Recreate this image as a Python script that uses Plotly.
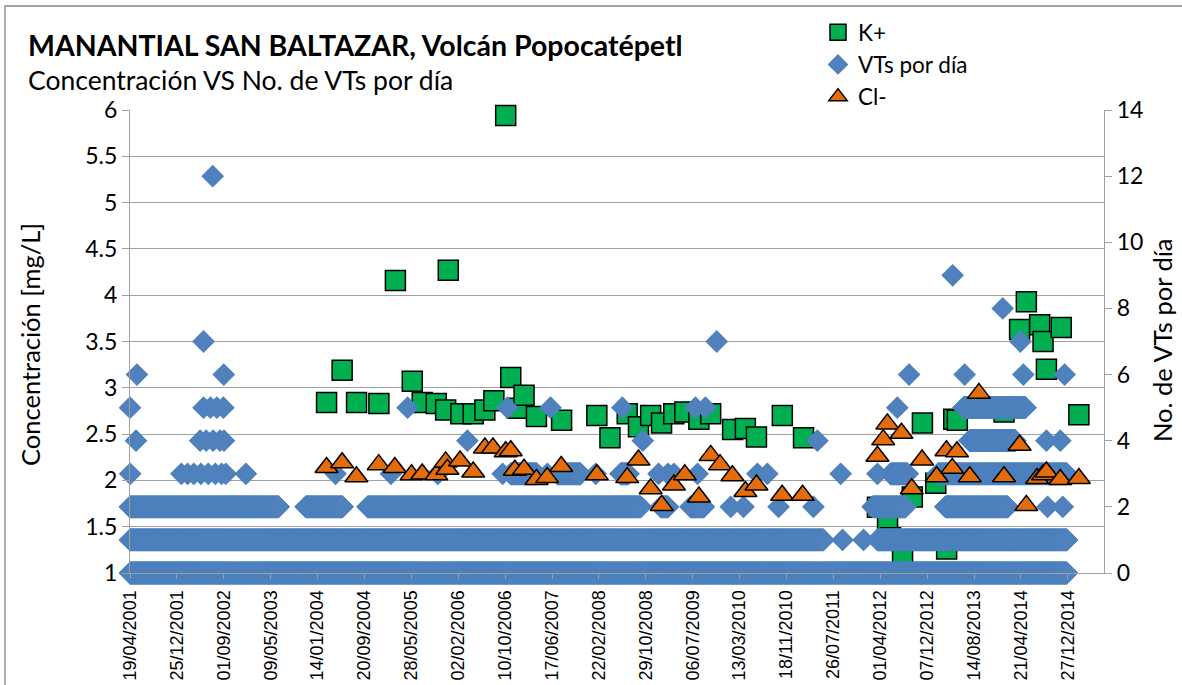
import pandas as pd
import plotly.graph_objects as go

# ---------------------------------------------------------------- data
tick_labels = ["19/04/2001", "25/12/2001", "01/09/2002", "09/05/2003", "14/01/2004",
               "20/09/2004", "28/05/2005", "02/02/2006", "10/10/2006", "17/06/2007",
               "22/02/2008", "29/10/2008", "06/07/2009", "13/03/2010", "18/11/2010",
               "26/07/2011", "01/04/2012", "07/12/2012", "14/08/2013", "21/04/2014",
               "27/12/2014"]

# Potassium (K+) samples, mg/L
k_dates = ["2004-03-02", "2004-05-24", "2004-08-09", "2004-12-06",
           "2005-03-04", "2005-06-02", "2005-07-25", "2005-10-08", "2005-11-27", "2005-12-11",
           "2006-02-16", "2006-04-23", "2006-06-24", "2006-08-11", "2006-10-13", "2006-11-09", "2006-12-14",
           "2007-01-19", "2007-03-26", "2007-08-07",
           "2008-02-11", "2008-04-21", "2008-07-22", "2008-09-20", "2008-11-24",
           "2009-01-21", "2009-03-27", "2009-05-25", "2009-08-08", "2009-10-10",
           "2010-02-04", "2010-04-13", "2010-06-11", "2010-10-27",
           "2011-02-17",
           "2012-03-17", "2012-05-10", "2012-05-26", "2012-07-29", "2012-09-19", "2012-11-12",
           "2013-01-22", "2013-03-21", "2013-04-28", "2013-05-17",
           "2014-01-21", "2014-04-14", "2014-05-20", "2014-07-30", "2014-08-17", "2014-09-04", "2014-11-22",
           "2015-02-24"]
k_values = [2.84, 3.19, 2.84, 2.83,
            4.16, 3.07, 2.84, 2.83, 2.76, 4.27,
            2.72, 2.72, 2.76, 2.86, 5.94, 3.11, 2.78,
            2.92, 2.69, 2.65,
            2.70, 2.46, 2.72, 2.58, 2.70,
            2.62, 2.72, 2.74, 2.66, 2.72,
            2.55, 2.56, 2.47, 2.70,
            2.46,
            1.71, 1.55, 1.38, 1.18, 1.82, 2.62,
            1.97, 1.26, 2.66, 2.65,
            2.74, 3.63, 3.93, 3.68, 3.50, 3.20, 3.65,
            2.71]

# Chloride (Cl-) samples, mg/L
cl_dates = ["2004-03-02", "2004-05-24", "2004-08-08", "2004-12-05",
            "2005-03-01", "2005-05-29", "2005-07-25", "2005-10-08", "2005-11-27", "2005-12-06",
            "2006-02-12", "2006-04-23", "2006-06-24", "2006-08-06", "2006-10-13", "2006-11-09", "2006-12-01",
            "2007-01-19", "2007-03-26", "2007-05-22", "2007-08-05",
            "2008-02-11", "2008-07-22", "2008-09-20", "2008-11-24",
            "2009-01-22", "2009-03-28", "2009-05-25", "2009-08-08", "2009-10-10", "2009-11-29",
            "2010-02-03", "2010-04-13", "2010-06-11", "2010-10-26",
            "2011-02-12",
            "2012-03-17", "2012-04-17", "2012-05-09", "2012-07-23", "2012-09-16", "2012-11-10",
            "2013-01-27", "2013-03-20", "2013-04-20", "2013-05-15", "2013-07-22", "2013-09-09",
            "2014-01-21", "2014-04-14", "2014-05-20", "2014-07-16", "2014-08-17", "2014-09-04", "2014-11-17",
            "2015-02-24"]
cl_values = [2.14, 2.19, 2.04, 2.17,
             2.14, 2.06, 2.07, 2.06, 2.20, 2.12,
             2.21, 2.09, 2.35, 2.35, 2.31, 2.32, 2.11,
             2.12, 2.01, 2.03, 2.15,
             2.06, 2.03, 2.22, 1.91,
             1.73, 1.95, 2.06, 1.82, 2.27, 2.17,
             2.05, 1.88, 1.95, 1.84,
             1.84,
             2.26, 2.44, 2.61, 2.51, 1.91, 2.22,
             2.04, 2.32, 2.13, 2.31, 2.04, 2.94,
             2.04, 2.38, 1.73, 2.02, 2.06, 2.09, 2.01,
             2.02]

# Volcano-tectonic events per day: runs of days sharing the same daily count
vt_run_counts = [0, 1, 1,
                 2, 2, 2, 2, 2, 2, 2,
                 3, 3, 3, 3, 3,
                 4,
                 5]
vt_run_start = ["2001-04-19", "2001-04-19", "2012-03-17",
                "2001-04-19", "2003-11-12", "2004-10-07", "2009-01-17", "2009-06-25", "2012-02-21", "2013-03-15",
                "2006-11-09", "2007-07-16", "2008-06-17", "2012-05-26", "2013-02-02",
                "2013-07-21",
                "2013-06-19"]
vt_run_end = ["2014-12-22", "2011-06-03", "2014-12-22",
              "2003-06-20", "2004-05-26", "2008-10-02", "2009-02-24", "2009-09-03", "2012-08-14", "2014-02-10",
              "2007-03-28", "2007-11-16", "2008-07-28", "2012-08-25", "2014-12-22",
              "2014-03-22",
              "2014-05-15"]

# Volcano-tectonic events per day: isolated days
vt_day_dates = ["2011-09-13", "2012-01-03",
                "2010-01-25", "2010-04-03", "2010-10-07", "2011-04-11", "2014-09-10", "2014-11-30",
                "2001-04-20", "2002-01-18", "2002-02-20", "2002-03-25", "2002-05-02", "2002-06-10",
                "2002-07-18", "2002-08-20", "2002-09-12", "2002-12-28",
                "2004-04-19", "2005-02-08", "2005-10-16", "2006-09-27",
                "2007-05-23", "2008-02-05", "2009-01-05", "2009-02-24", "2009-03-28", "2009-08-01",
                "2010-06-16", "2010-08-08", "2011-09-03", "2012-03-17",
                "2001-05-21", "2002-04-28", "2002-05-30", "2002-07-06", "2002-08-12", "2002-09-02",
                "2006-03-23", "2008-10-13", "2011-05-02", "2014-09-04", "2014-11-17",
                "2001-04-19", "2002-05-16", "2002-06-22", "2002-07-26", "2002-08-30",
                "2005-05-08", "2006-10-22", "2007-06-09", "2008-06-26", "2009-07-21",
                "2009-09-12", "2012-07-01",
                "2001-05-26", "2002-09-01", "2012-09-02", "2013-06-25", "2014-05-04", "2014-12-10",
                "2002-05-16", "2009-11-11", "2014-04-18",
                "2014-01-14",
                "2013-04-22",
                "2002-07-04"]
vt_day_counts = [1, 1,
                 2, 2, 2, 2, 2, 2,
                 3, 3, 3, 3, 3, 3,
                 3, 3, 3, 3,
                 3, 3, 3, 3,
                 3, 3, 3, 3, 3, 3,
                 3, 3, 3, 3,
                 4, 4, 4, 4, 4, 4,
                 4, 4, 4, 4, 4,
                 5, 5, 5, 5, 5,
                 5, 5, 5, 5, 5,
                 5, 5,
                 6, 6, 6, 6, 6, 6,
                 7, 7, 7,
                 8,
                 9,
                 12]

# ---------------------------------------------------------------- build VT series
vt_x, vt_y = [], []
for c, s, e in zip(vt_run_counts, vt_run_start, vt_run_end):
    days = pd.date_range(s, e, freq="D")
    vt_x.extend(days)
    vt_y.extend([c] * len(days))
vt_x.extend(pd.to_datetime(vt_day_dates))
vt_y.extend(vt_day_counts)

tick_vals = pd.to_datetime(tick_labels, format="%d/%m/%Y")

# ---------------------------------------------------------------- figure
W, H = 1182, 685
L, R, T, B = 130, 1104, 110, 573


def px(x):
    return (x - L) / (R - L)


def py(y):
    return (B - y) / (B - T)


CAL = "Lato, Carlito, Calibri, sans-serif"
GRID = "#A0A0A0"

fig = go.Figure()
fig.add_trace(go.Scatter(
    x=pd.to_datetime(k_dates), y=k_values, name="K+", mode="markers",
    legendgroup="k", cliponaxis=False,
    marker=dict(symbol="square", size=20, color="#00B050",
                line=dict(color="black", width=1.5)),
    xaxis="x", yaxis="y"))
fig.add_trace(go.Scatter(
    x=vt_x, y=vt_y, name="VTs por día", mode="markers",
    legendgroup="vt", cliponaxis=False,
    marker=dict(symbol="diamond", size=17.5, color="#4F81BD", line=dict(width=0)),
    xaxis="x", yaxis="y2"))
fig.add_trace(go.Scatter(
    x=pd.to_datetime(cl_dates), y=cl_values, name="Cl-", mode="markers",
    legendgroup="cl", cliponaxis=False,
    marker=dict(symbol="triangle-up", size=20, color="#E46C0A",
                line=dict(color="black", width=1.5)),
    xaxis="x", yaxis="y3"))

fig.update_layout(
    width=W, height=H,
    margin=dict(l=L, r=W - R, t=T, b=H - B, pad=0, autoexpand=False),
    paper_bgcolor="white", plot_bgcolor="white",
    font=dict(family=CAL, size=23, color="black"),
    showlegend=True,
    legend=dict(x=px(818), y=py(11), xanchor="left", yanchor="top",
                font=dict(family=CAL, size=22.5), traceorder="grouped",
                tracegroupgap=0, itemwidth=30, bgcolor="rgba(0,0,0,0)"),
    xaxis=dict(type="date", range=["2001-04-19", "2015-07-08"], automargin=False,
               tickmode="array", tickvals=tick_vals, ticktext=tick_labels,
               tickangle=-90, tickfont=dict(family="Liberation Sans, Arial", size=18),
               ticklabelstandoff=4,
               showline=True, linecolor=GRID, linewidth=1.3,
               ticks="outside", ticklen=5, tickcolor=GRID,
               showgrid=False, zeroline=False),
    yaxis=dict(range=[1, 6], dtick=0.5, tick0=1, automargin=False,
               showline=True, linecolor=GRID, linewidth=1.3,
               ticks="outside", ticklen=7, tickcolor=GRID,
               showgrid=True, gridcolor=GRID, gridwidth=1.3,
               zeroline=False, tickfont=dict(size=23)),
    yaxis2=dict(range=[0, 14], dtick=2, overlaying="y", side="right", automargin=False,
                showline=True, linecolor=GRID, linewidth=1.3,
                ticks="outside", ticklen=7, tickcolor=GRID,
                showgrid=False, zeroline=False, tickfont=dict(size=23)),
    yaxis3=dict(range=[1, 6], overlaying="y", visible=False, automargin=False),
)

annotations = [
    dict(text="<b>MANANTIAL SAN BALTAZAR, Volcán Popocatépetl</b>",
         x=px(26), y=py(45), xanchor="left", yanchor="middle",
         font=dict(size=28.5)),
    dict(text="Concentración VS No. de VTs por día",
         x=px(26), y=py(80), xanchor="left", yanchor="middle",
         font=dict(size=26.5)),
    dict(text="Concentración [mg/L]", textangle=-90,
         x=px(30), y=py(345), xanchor="center", yanchor="middle",
         font=dict(size=25.5)),
    dict(text="No. de VTs por día", textangle=-90,
         x=px(1162), y=py(340), xanchor="center", yanchor="middle",
         font=dict(size=25.5)),
]
for a in annotations:
    a.update(xref="paper", yref="paper", showarrow=False)
fig.update_layout(annotations=annotations)

# outer chart frame
fig.add_shape(type="rect", xref="paper", yref="paper",
              x0=px(5), x1=px(1200), y0=py(720), y1=py(6),
              line=dict(color="#868686", width=1.3), layer="below")

fig.write_html("out.html")
